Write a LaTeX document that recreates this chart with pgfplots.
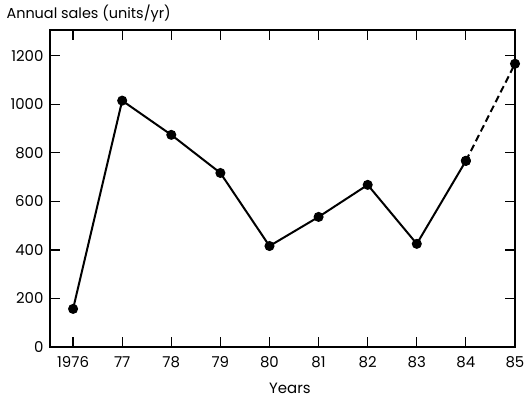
\documentclass[border=0pt]{standalone}
\usepackage{fontspec}
\setmainfont{Poppins}
\usepackage{pgfplots}
\pgfplotsset{compat=1.18}
\begin{document}
\begin{tikzpicture}
\begin{axis}[
  scale only axis,
  width=465bp, height=317bp,
  xmin=1975.53, xmax=1985,
  ymin=0, ymax=1306,
  xtick={1976,...,1985},
  xticklabels={1976,77,78,79,80,81,82,83,84,85},
  ytick={0,200,...,1200},
  /pgf/number format/assume math mode=true,
  /pgf/number format/1000 sep={},
  tick align=inside,
  major tick length=10bp,
  axis line style={line width=1.2pt},
  every tick/.style={black, line width=1.2pt},
  tick label style={font=\fontsize{15}{18}\selectfont},
  xticklabel style={yshift=-6bp},
  yticklabel style={xshift=-3bp},
  xlabel={Years},
  xlabel style={at={(ticklabel cs:0.516)}, anchor=north, font=\fontsize{15}{18}\selectfont, yshift=-8bp},
  title={Annual sales (units/yr)},
  title style={at={(rel axis cs:0,1)}, anchor=south west, xshift=-47bp, yshift=-2bp, font=\fontsize{14.5}{17}\selectfont},
]
\addplot[black, line width=2pt, mark=*, mark size=4pt] coordinates {
  (1976,157) (1977,1015) (1978,874) (1979,717) (1980,416)
  (1981,536) (1982,668) (1983,425) (1984,767)
};
\addplot[black, line width=2pt, dash pattern=on 7pt off 4pt, mark=*, mark size=4pt, mark options={solid}] coordinates {
  (1984,767) (1985,1167)
};
\end{axis}
\pgfresetboundingbox
\path[use as bounding box] ([shift={(-50bp,-53bp)}]current axis.south west) rectangle ([shift={(9bp,30bp)}]current axis.north east);
\end{tikzpicture}
\end{document}
